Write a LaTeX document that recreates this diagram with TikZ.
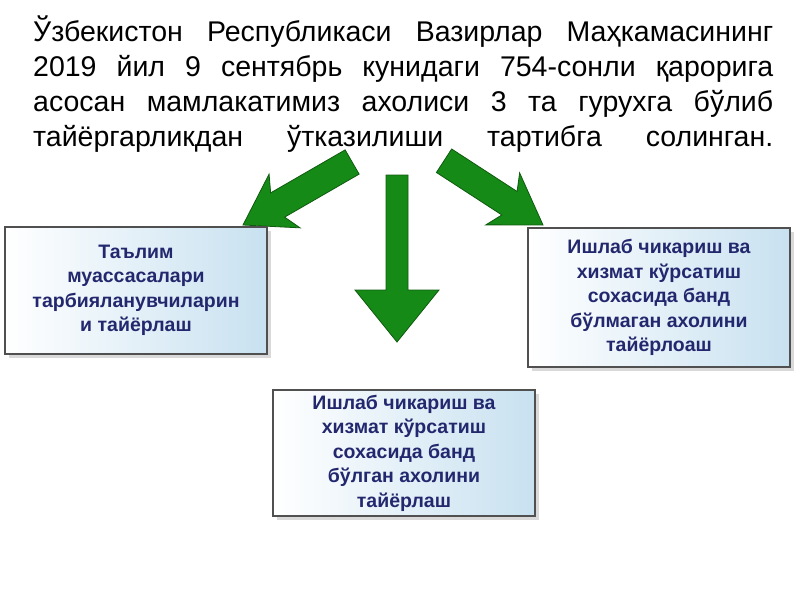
\documentclass[tikz,border=0pt]{standalone}
\usepackage{fontspec}
\setmainfont{Liberation Sans}
\begin{document}
\begin{tikzpicture}[x=1pt,y=-1pt,
  garrow/.style={fill={rgb,255:red,22;green,138;blue,22},draw={rgb,255:red,14;green,90;blue,14},line width=0.8pt},
  box/.style={draw={rgb,255:red,80;green,80;blue,80},line width=1.2pt,left color=white,right color={rgb,255:red,200;green,225;blue,240},
    align=center,font=\bfseries\fontsize{19.5}{24.5}\selectfont,text={rgb,255:red,35;green,40;blue,110},inner sep=0pt},
  ]
\useasboundingbox (0,0) rectangle (800,600);
\node[anchor=north west,align=left,font=\fontsize{28.5}{35}\selectfont,inner sep=0pt] (title) at (33,16)
{\makebox[740pt][s]{Ўзбекистон Республикаси Вазирлар Маҳкамасининг}\\
\makebox[740pt][s]{2019 йил 9 сентябрь кунидаги 754-сонли қарорига}\\
\makebox[740pt][s]{асосан мамлакатимиз ахолиси 3 та гурухга бўлиб}\\
\makebox[740pt][s]{тайёргарликдан ўтказилиши тартибга солинган.}};
% arrows
\path[garrow,shift={(243,225)},rotate=-150] (0,0) -- (-48,31) -- (-40,14) -- (-126,14) -- (-126,-14) -- (-40,-14) -- (-48,-31) -- cycle;
\path[garrow,shift={(397,342)},rotate=-90] (0,0) -- (-52,42) -- (-52,11) -- (-167,11) -- (-167,-11) -- (-52,-11) -- (-52,-42) -- cycle;
\path[garrow,shift={(543,225)},rotate=-33] (0,0) -- (-48,31) -- (-40,14) -- (-118,14) -- (-118,-14) -- (-40,-14) -- (-48,-31) -- cycle;
% shadows
\fill[black!15] (9,231) rectangle (271,358);
\fill[black!15] (277,394) rectangle (539,520);
\fill[black!15] (532,232) rectangle (794,371);
\node[box,minimum width=262pt,minimum height=127pt] (b1) at (136,290.5) {Таълим\\муассасалари\\тарбияланувчиларин\\и тайёрлаш};
\node[box,minimum width=262pt,minimum height=126pt] (b2) at (404,453) {Ишлаб чикариш ва\\хизмат кўрсатиш\\сохасида банд\\бўлган ахолини\\тайёрлаш};
\node[box,minimum width=262pt,minimum height=139pt] (b3) at (659,297.5) {Ишлаб чикариш ва\\хизмат кўрсатиш\\сохасида банд\\бўлмаган ахолини\\тайёрлоаш};
\end{tikzpicture}
\end{document}
